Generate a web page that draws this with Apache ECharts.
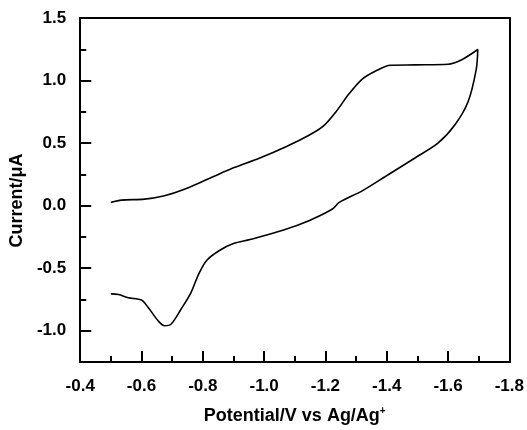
<!DOCTYPE html>
<html>
<head>
<meta charset="utf-8">
<script src="https://cdn.jsdelivr.net/npm/echarts@6/dist/echarts.min.js"></script>
<style>html,body{margin:0;padding:0;background:#fff;}#c{width:527px;height:430px;}</style>
</head>
<body>
<div id="c"></div>
<script>
// Cyclic voltammogram: forward (upper) sweep then reverse (lower) sweep
var potential = [
  -0.50, -0.535, -0.61, -0.675, -0.74, -0.826, -0.90, -0.986, -1.073, -1.148, -1.191, -1.234, -1.277, -1.32, -1.364, -1.412, -1.493, -1.60, -1.643, -1.697,
  -1.692, -1.665, -1.622, -1.567, -1.492, -1.406, -1.32, -1.245, -1.223, -1.148, -1.061, -0.954, -0.90, -0.857, -0.814, -0.788, -0.761, -0.729, -0.697, -0.675, -0.654, -0.622, -0.60, -0.557, -0.525, -0.50
];
var current = [
  0.026, 0.044, 0.052, 0.079, 0.131, 0.223, 0.302, 0.381, 0.473, 0.565, 0.631, 0.749, 0.894, 1.012, 1.077, 1.122, 1.125, 1.13, 1.164, 1.248,
  1.09, 0.828, 0.644, 0.499, 0.381, 0.249, 0.118, 0.026, -0.027, -0.118, -0.197, -0.271, -0.303, -0.355, -0.434, -0.539, -0.697, -0.828, -0.946, -0.96, -0.92, -0.815, -0.755, -0.736, -0.71, -0.705
];
var xMajorTicks = [-1.8, -1.6, -1.4, -1.2, -1.0, -0.8, -0.6, -0.4];
var xMinorTicks = [-1.7, -1.5, -1.3, -1.1, -0.9, -0.7, -0.5];
var yMajorTicks = [-1.0, -0.5, 0.0, 0.5, 1.0, 1.5];
var yMinorTicks = [-0.75, -0.25, 0.25, 0.75, 1.25];
var xTitle = 'Potential/V vs Ag/Ag';
var yTitle = 'Current/\u03bcA';

var pts = potential.map(function (v, i) { return [v, current[i]]; });
var font = 'Liberation Sans, Arial, sans-serif';
var black = '#000';
var lineS = { color: black, width: 2 };
var yMin = -1.25, yMax = 1.5;
var chart = echarts.init(document.getElementById('c'));
chart.setOption({
  animation: false,
  backgroundColor: '#fff',
  grid: { left: 78, right: 16, top: 18, bottom: 63, containLabel: false },
  xAxis: [{
    type: 'value', inverse: true, min: -1.8, max: -0.4, position: 'bottom',
    axisLine: { onZero: false, lineStyle: lineS },
    axisTick: { show: true, inside: true, length: 11, customValues: xMajorTicks, lineStyle: lineS },
    splitLine: { show: false },
    axisLabel: { margin: 16, color: black, fontSize: 17, fontWeight: 'bold', fontFamily: font, customValues: xMajorTicks,
      formatter: function (v) { return v.toFixed(1); } },
    name: xTitle + '{sup|+}', nameLocation: 'middle', nameGap: 44,
    nameTextStyle: { color: black, fontSize: 18, fontWeight: 'bold', fontFamily: font,
      rich: { sup: { fontSize: 10, fontWeight: 'bold', fontFamily: font, color: black, verticalAlign: 'top', padding: [0, 0, 10, 0] } } }
  }, {
    type: 'value', inverse: true, min: -1.8, max: -0.4, position: 'bottom',
    axisLine: { show: false, onZero: false },
    axisTick: { show: true, inside: true, length: 6, customValues: xMinorTicks, lineStyle: lineS },
    axisLabel: { show: false }, splitLine: { show: false }
  }, {
    type: 'value', inverse: true, min: -1.8, max: -0.4, position: 'top',
    axisLine: { show: true, onZero: false, lineStyle: lineS },
    axisTick: { show: false }, axisLabel: { show: false }, splitLine: { show: false }
  }],
  yAxis: [{
    type: 'value', min: yMin, max: yMax, position: 'left',
    axisLine: { onZero: false, lineStyle: lineS },
    axisTick: { show: true, inside: true, length: 11, customValues: yMajorTicks, lineStyle: lineS },
    splitLine: { show: false },
    axisLabel: { margin: 14, color: black, fontSize: 17, fontWeight: 'bold', fontFamily: font, customValues: yMajorTicks,
      formatter: function (v) { return v.toFixed(1); } },
    name: yTitle, nameLocation: 'middle', nameGap: 44,
    nameTextStyle: { color: black, fontSize: 18, fontWeight: 'bold', fontFamily: font, padding: [0, 21, 0, 0] }
  }, {
    type: 'value', min: yMin, max: yMax, position: 'left',
    axisLine: { show: false, onZero: false },
    axisTick: { show: true, inside: true, length: 6, customValues: yMinorTicks, lineStyle: lineS },
    axisLabel: { show: false }, splitLine: { show: false }
  }, {
    type: 'value', min: yMin, max: yMax, position: 'right',
    axisLine: { show: true, onZero: false, lineStyle: lineS },
    axisTick: { show: false }, axisLabel: { show: false }, splitLine: { show: false }
  }],
  series: [{
    type: 'line', data: pts, showSymbol: false, symbol: 'none', smooth: 0.3,
    lineStyle: { color: black, width: 1.6 }, xAxisIndex: 0, yAxisIndex: 0
  }]
});
</script>
</body>
</html>
